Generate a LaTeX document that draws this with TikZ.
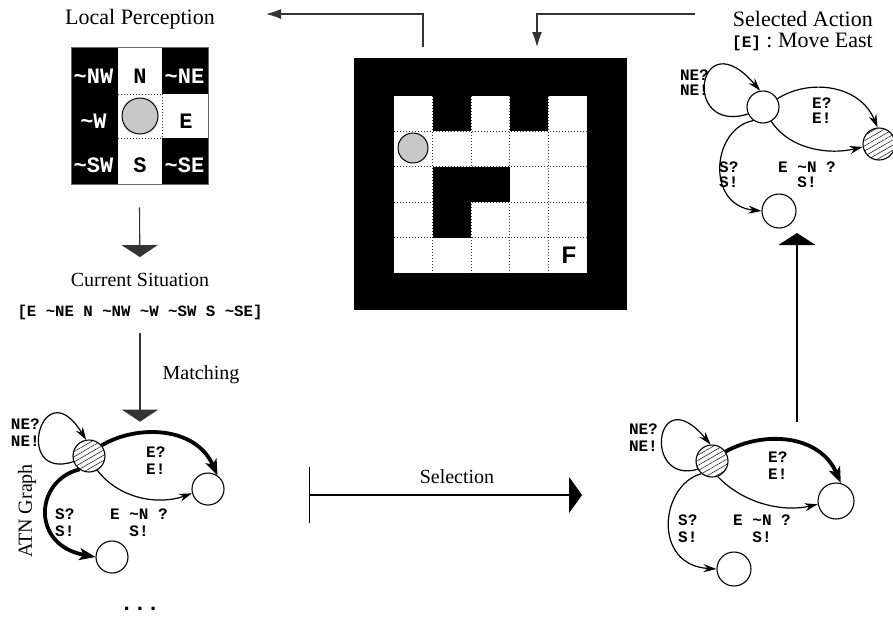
\documentclass[tikz,border=0pt]{standalone}
\usepackage{fontspec}
\setmainfont{Liberation Serif}
\setmonofont{Liberation Mono}
\newfontfamily\sansf{Liberation Sans}
\usetikzlibrary{arrows.meta,patterns.meta}
\newcommand\tld{\char"7E\relax}
\begin{document}
\begin{tikzpicture}[x=1pt,y=-1pt,
  conn/.style={draw=black!80, line width=1.1pt},
  bigtri/.style={-{Triangle[length=12pt,width=36pt]}},
  thintip/.style={-{Latex[length=15pt,width=10pt]}},
  st/.style={circle, draw, line width=1.1pt, minimum size=32pt, inner sep=0pt},
  hat/.style={pattern={Lines[angle=30,distance=4.5pt,line width=0.6pt]}, pattern color=black!85},
  ethin/.style={line width=1.2pt, -{Stealth[length=13pt,width=8pt]}},
  ethick/.style={line width=3.8pt, -{Stealth[length=16pt,width=12pt,inset=4pt]}},
  ttl/.style={font=\fontsize{22}{24}\selectfont, inner sep=0pt},
  lbl/.style={font=\fontsize{20}{22}\selectfont, inner sep=0pt},
  gl/.style={font=\ttfamily\bfseries\fontsize{16}{17}\selectfont, inner sep=0pt},
  gt/.style={font=\ttfamily\bfseries\fontsize{16}{15}\selectfont, inner sep=0pt},
  cellw/.style={font=\ttfamily\bfseries\fontsize{22}{22}\selectfont, text=white, inner sep=0pt},
  cellb/.style={font=\ttfamily\bfseries\fontsize{22}{22}\selectfont, inner sep=0pt},
  dotl/.style={draw=black!80, line width=0.8pt, dash pattern=on 1pt off 2pt}
]
\useasboundingbox (0,0) rectangle (893,619);

% ---------- Local perception ----------
\node[ttl] (lp) at (140,19) {Local Perception};
\fill[black] (71,47) rectangle (117.7,184);
\fill[black] (162.3,47) rectangle (208,94);
\fill[black] (162.3,138) rectangle (208,184);
\draw[dotl] (117.7,94) -- (162.3,94) -- (162.3,138) -- (117.7,138);
\node[draw=black!60, line width=0.8pt, minimum width=137pt, minimum height=137pt, inner sep=0pt] (lpgrid) at (139.5,115.5) {};
\node[circle, draw, line width=1pt, fill=black!22, minimum size=36pt, inner sep=0pt] (lpbot) at (140,116) {};
\node[cellw] (cnw) at (93.5,76) {\tld NW};
\node[cellb] (cn) at (140,76) {N};
\node[cellw] (cne) at (184.5,76) {\tld NE};
\node[cellw] (cw) at (93.5,121) {\tld W};
\node[cellb] (ce) at (186,121) {E};
\node[cellw] (csw) at (93.5,165.5) {\tld SW};
\node[cellb] (cs0) at (140,165.5) {S};
\node[cellw] (cse) at (184.5,165.5) {\tld SE};

% ---------- Maze ----------
\node[fill=black, minimum width=273pt, minimum height=252pt, inner sep=0pt] (maze) at (490.5,184) {};
\fill[white] (394,96) rectangle (587,273);
\foreach \x in {432.6,471.2,509.8,548.4} \draw[dotl] (\x,96) -- (\x,273);
\foreach \y in {131.4,166.8,202.2,237.6} \draw[dotl] (394,\y) -- (587,\y);
\fill[black] (432.6,96) rectangle (471.2,131.4);
\fill[black] (509.8,96) rectangle (548.4,131.4);
\fill[black] (432.6,166.8) rectangle (509.8,202.2);
\fill[black] (432.6,202.2) rectangle (471.2,237.6);
\node[circle, draw, line width=1pt, fill=black!22, minimum size=30pt, inner sep=0pt] (mbot) at (413,148) {};
\node[font=\sansf\bfseries\fontsize{24}{24}\selectfont, inner sep=0pt] (fin) at (569,255) {F};

% ---------- top connectors ----------
\coordinate (mzOut) at (423,47);
\coordinate (lpIn) at (266,14);
\draw[conn, thintip] (mzOut) |- (lpIn);
\coordinate (saOut) at (695,14);
\coordinate (mzIn) at (537,47);
\draw[conn, thintip] (saOut) -| (mzIn);

% ---------- Current situation ----------
\node[lbl] (cs) at (140,280) {Current Situation};
\node[font=\ttfamily\bfseries\fontsize{15.7}{16}\selectfont, inner sep=0pt] (sit) at (140,312) {[E \tld NE N \tld NW \tld W \tld SW S \tld SE]};
\draw[conn, bigtri, shorten >=16pt] ([yshift=-23pt]lpgrid.south) -- (cs.north);
\node[lbl] (match) at (201,375) {Matching};

% ---------- Left ATN graph ----------
\node[st, hat] (Lh) at (89,456) {};
\node[st] (Lr) at (208,489) {};
\node[st] (Lb) at (112,557) {};
\draw[conn, bigtri, shorten <=13pt, shorten >=18pt] (sit.south) -- (sit.south |- Lh.north);
\draw[ethin] (Lh.200) .. controls (12,482) and (42,368) .. (Lh.100);
\draw[ethick] (Lh.40) .. controls (135,425) and (195,425) .. (Lr.55);
\draw[ethin] (Lh.-60) .. controls (120,500) and (160,505) .. (Lr.195);
\draw[ethick] (Lh.235) .. controls (35,480) and (30,545) .. (Lb.180);
\node[gl, align=right, anchor=east] (Lne) at (40,432.5) {NE?\\NE!};
\node[gl, align=left, anchor=west] (Le) at (146,460.5) {E?\\E!};
\node[gl, align=left, anchor=west] (Ls) at (55,522.5) {S?\\S!};
\node[gl, align=center] (Len) at (139,522.5) {E \tld N ?\\S!};
\node[lbl, rotate=90] (atn) at (27,511) {ATN Graph};
\node[font=\ttfamily\bfseries\fontsize{22}{22}\selectfont, inner sep=0pt] (dots) at (140,609) {...};

% ---------- Selection ----------
\coordinate (selS) at (309,495);
\coordinate (selE) at (582,495);
\draw[line width=1pt] ([yshift=28pt]selS) -- ([yshift=-28pt]selS);
\draw[line width=1.1pt, -{Triangle[length=13pt,width=36pt]}] (selS) -- (selE);
\node[lbl] (sel) at (457,477) {Selection};

% ---------- Right ATN graph ----------
\node[st, hat] (Rh) at (712,461) {};
\node[st, minimum size=36pt] (Rr) at (836,501) {};
\node[st, minimum size=34pt] (Rb) at (734,569) {};
\draw[ethin] (Rh.210) .. controls (642,485) and (655,378) .. (Rh.95);
\draw[ethick] (Rh.35) .. controls (765,430) and (820,435) .. (Rr.75);
\draw[ethin] (Rh.-70) .. controls (745,505) and (785,512) .. (Rr.190);
\draw[ethin] (Rh.230) .. controls (660,485) and (652,565) .. (Rb.180);
\node[gl, align=right, anchor=east] (Rne) at (658,437.5) {NE?\\NE!};
\node[gl, align=left, anchor=west] (Re) at (768,465.5) {E?\\E!};
\node[gl, align=left, anchor=west] (Rs) at (678,529) {S?\\S!};
\node[gl, align=center] (Ren) at (762,529) {E \tld N ?\\S!};

\coordinate (upS) at (797,422);
\coordinate (upE) at (797,233);
\draw[line width=1.1pt, -{Triangle[length=12pt,width=37pt]}] (upS) -- (upE);

% ---------- Top right ATN graph ----------
\node[font=\fontsize{22}{21}\selectfont, inner sep=0pt, align=right, anchor=north east] (sa) at (873,11) {Selected Action\\{\ttfamily\bfseries\fontsize{16}{16}\selectfont [E]} : Move East};
\node[st] (Tw) at (763,107) {};
\node[st, hat] (Th) at (879,144) {};
\node[st, minimum size=34pt] (Tb) at (779,211) {};
\draw[ethin] (Tw.205) .. controls (680,135) and (698,18) .. (Tw.100);
\draw[ethin] (Tw.30) .. controls (810,78) and (860,85) .. (Th.95);
\draw[ethin] (Tw.-60) .. controls (790,150) and (830,155) .. (Th.190);
\draw[ethin] (Tw.235) .. controls (712,128) and (705,205) .. (Tb.180);
\node[gt, align=right, anchor=east] (Tne) at (709,83) {NE?\\NE!};
\node[gt, align=left, anchor=west] (Te) at (812,110.5) {E?\\E!};
\node[gt, align=left, anchor=west] (Ts) at (719,174.5) {S?\\S!};
\node[gt, align=center] (Ten) at (807,174.5) {E \tld N ?\\S!};
\end{tikzpicture}
\end{document}
